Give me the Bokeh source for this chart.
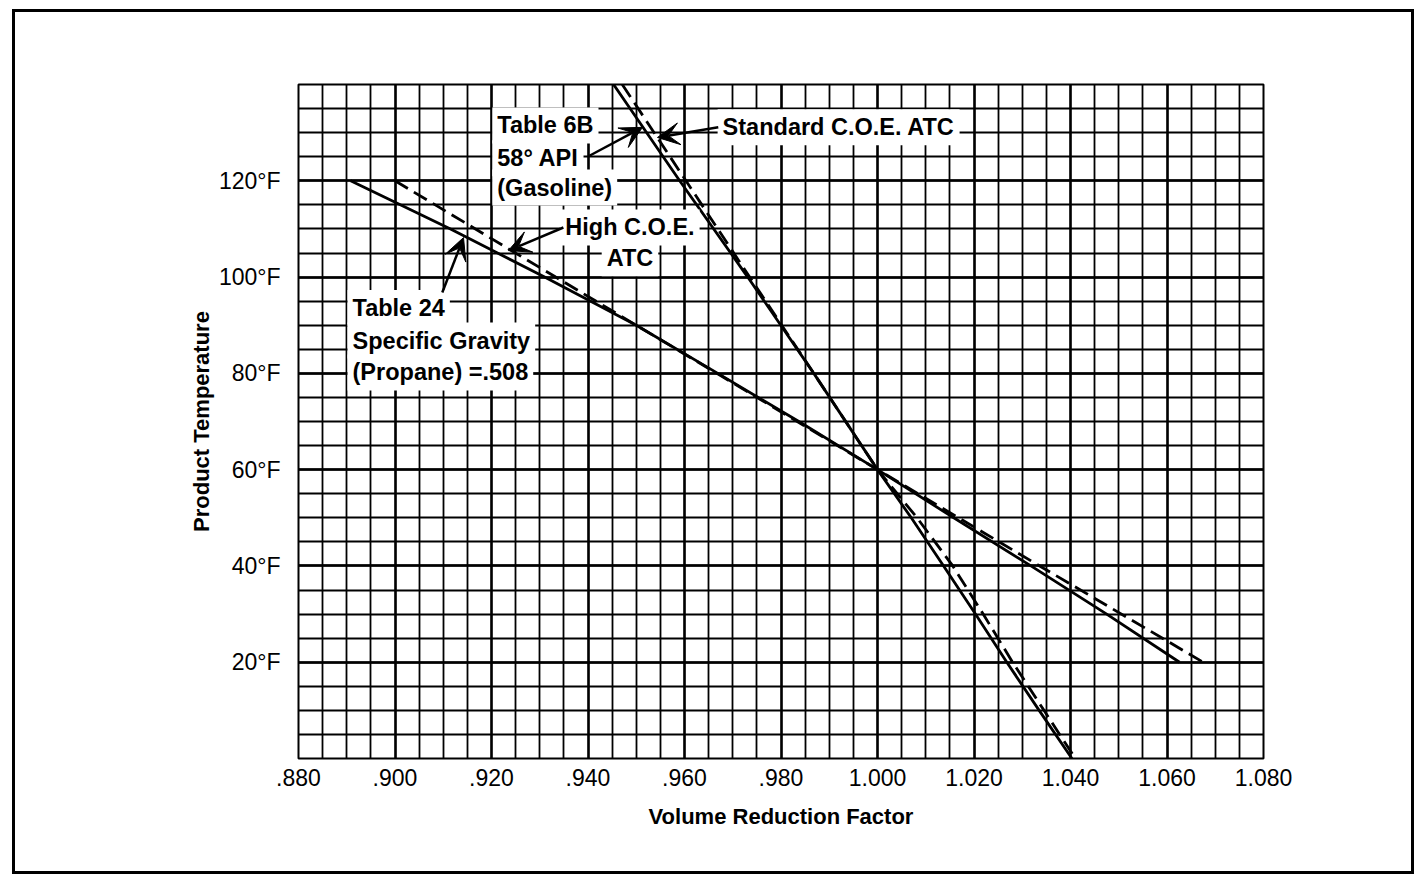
from bokeh.plotting import figure
from bokeh.models import Label, Arrow, VeeHead, FixedTicker, Range1d
from bokeh.embed import file_html
from bokeh.resources import INLINE

# ---------------- data ----------------
x_ticks = [0.88, 0.90, 0.92, 0.94, 0.96, 0.98, 1.00, 1.02, 1.04, 1.06, 1.08]
x_tick_labels = [".880", ".900", ".920", ".940", ".960", ".980",
                 "1.000", "1.020", "1.040", "1.060", "1.080"]
y_ticks = [20, 40, 60, 80, 100, 120]
y_tick_labels = ["20°F", "40°F", "60°F", "80°F", "100°F", "120°F"]

# Gasoline (Table 6B, 58° API) and Standard C.O.E. ATC
gas_temp = [140, 120, 100, 80, 60, 50, 40, 30, 20, 10, 0]
gas_table6b = [0.9453, 0.9590, 0.9731, 0.9868, 1.0000, 1.0070, 1.0137,
               1.0203, 1.0268, 1.0335, 1.0403]
gas_std_atc = [0.9471, 0.9603, 0.9735, 0.9868, 1.0000, 1.0082, 1.0156,
               1.0219, 1.0280, 1.0345, 1.0410]

# Propane (Table 24, SG .508) and High C.O.E. ATC
prop_temp = [120, 110, 100, 90, 80, 70, 60, 50, 40, 30, 20]
prop_table24 = [0.8908, 0.9115, 0.9310, 0.9500, 0.9669, 0.9837, 1.0000,
                1.0158, 1.0318, 1.0475, 1.0626]
high_temp = [120, 100, 80, 60, 40, 20]
high_atc = [0.9000, 0.9333, 0.9667, 1.0000, 1.0336, 1.0675]

x_minor = [round(0.88 + 0.005 * i, 3) for i in range(41)]
y_minor = [5 * i for i in range(29)]

FONT = "Liberation Sans"
PX = 0.2 / 965.0          # data units of x per screen pixel
PAD = 5

# figure sits inside a 3px page frame (12px from left, 9px from top of the window)
p = figure(width=1402, height=865, x_range=Range1d(0.88, 1.08), y_range=Range1d(0, 140),
           output_backend="svg", toolbar_location=None,
           min_border_left=283, min_border_right=154, min_border_top=72, min_border_bottom=119)
p.margin = (9, 0, 0, 12)
p.styles = {"border": "3px solid black"}
p.background_fill_color = "white"
p.border_fill_color = "white"
p.outline_line_color = "black"
p.outline_line_width = 2

# axes
p.xaxis.ticker = FixedTicker(ticks=x_ticks, minor_ticks=x_minor)
p.yaxis.ticker = FixedTicker(ticks=y_ticks, minor_ticks=y_minor)
p.xaxis.major_label_overrides = dict(zip(x_ticks, x_tick_labels))
p.yaxis.major_label_overrides = dict(zip(y_ticks, y_tick_labels))
for ax in (p.xaxis[0], p.yaxis[0]):
    ax.axis_line_color = None
    ax.major_tick_line_color = None
    ax.minor_tick_line_color = None
    ax.major_tick_out = 0
    ax.minor_tick_out = 0
    ax.major_tick_in = 0
    ax.minor_tick_in = 0
    ax.major_label_text_font = FONT
    ax.major_label_text_font_size = "23px"
    ax.major_label_text_color = "black"
    ax.axis_label_text_font = FONT
    ax.axis_label_text_font_style = "bold"
    ax.axis_label_text_font_size = "22px"
    ax.axis_label_text_color = "black"
p.xaxis.axis_label = "Volume Reduction Factor"
p.yaxis.axis_label = "Product Temperature"
p.xaxis.major_label_standoff = 10
p.xaxis.axis_label_standoff = 15
p.yaxis.major_label_standoff = 18
p.yaxis.axis_label_standoff = 2

# grid
for g in (p.xgrid[0], p.ygrid[0]):
    g.grid_line_color = "black"
    g.grid_line_width = 2.4
    g.minor_grid_line_color = "black"
    g.minor_grid_line_width = 1.8

# curves
p.line(prop_table24, prop_temp, line_color="black", line_width=2.8)
p.line(high_atc, high_temp, line_color="black", line_width=2.8, line_dash="15 7")
p.line(gas_table6b, gas_temp, line_color="black", line_width=2.8)
p.line(gas_std_atc, gas_temp, line_color="black", line_width=2.8, line_dash="15 7")


def lab(text, x, y, align="left"):
    if align == "left":
        x = x - PAD * PX
    p.add_layout(Label(x=x, y=y, text=text, text_font=FONT, text_font_style="bold",
                       text_font_size="23.5px", text_color="black", text_baseline="middle",
                       text_align=align, background_fill_color="white", padding=PAD))


lab("Table 6B", 0.9212, 131.5)
lab("58° API", 0.9212, 124.7)
lab("(Gasoline)", 0.9212, 118.6)
lab("Standard C.O.E. ATC", 0.9679, 131.1)
lab("High C.O.E.", 0.9487, 110.3, "center")
lab("ATC", 0.9487, 103.9, "center")
lab("Table 24", 0.8912, 93.6)
lab("Specific Gravity", 0.8912, 86.8)
lab("(Propane) =.508", 0.8912, 80.2)


def arrow(xs, ys, xe, ye):
    p.add_layout(Arrow(end=VeeHead(size=22, fill_color="black", line_color="black", line_width=1),
                       x_start=xs, y_start=ys, x_end=xe, y_end=ye,
                       line_color="black", line_width=2.5))


arrow(0.9670, 131.1, 0.9544, 129.0)   # Standard C.O.E. ATC
arrow(0.9403, 125.2, 0.9513, 131.1)   # Table 6B
arrow(0.9349, 110.3, 0.9235, 105.5)   # High C.O.E. ATC
arrow(0.9098, 96.8, 0.9142, 108.2)    # Table 24

open("out.html", "w").write(file_html(p, INLINE))
